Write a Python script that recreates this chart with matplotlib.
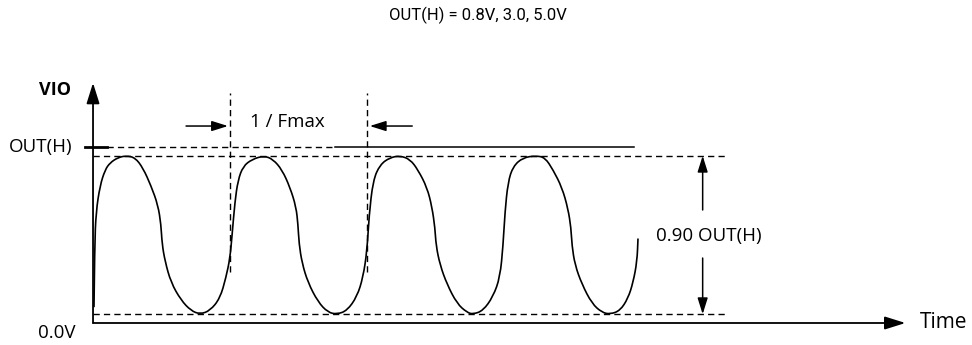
import matplotlib
matplotlib.use('Agg')
import matplotlib.pyplot as plt
from matplotlib.path import Path
from matplotlib.patches import PathPatch

plt.rcParams['font.family'] = ['Open Sans', 'DejaVu Sans']

# waveform: time in periods (1/Fmax = 1), voltage in units of OUT(H)
wave_t = [0.007, 0.012, 0.022, 0.051, 0.088, 0.124, 0.182, 0.241, 0.307, 0.365,
          0.423, 0.474, 0.496, 0.504, 0.526, 0.569, 0.642, 0.715, 0.781, 0.854,
          0.927, 0.971, 1.000, 1.015, 1.036, 1.058, 1.095, 1.161, 1.248, 1.314,
          1.380, 1.438, 1.482, 1.496, 1.504, 1.526, 1.569, 1.642, 1.715, 1.781,
          1.854, 1.927, 1.971, 2.000, 2.015, 2.044, 2.095, 2.168, 2.241, 2.314,
          2.372, 2.438, 2.474, 2.496, 2.504, 2.533, 2.584, 2.657, 2.730, 2.774,
          2.847, 2.920, 2.971, 2.993, 3.007, 3.029, 3.066, 3.139, 3.234, 3.299,
          3.358, 3.423, 3.467, 3.489, 3.496, 3.518, 3.569, 3.642, 3.715, 3.774,
          3.847, 3.905, 3.942, 3.971, 3.978]
wave_v = [0.09, 0.44, 0.63, 0.78, 0.87, 0.91, 0.94, 0.95, 0.94, 0.88,
          0.78, 0.67, 0.56, 0.45, 0.35, 0.23, 0.13, 0.07, 0.05, 0.07,
          0.14, 0.26, 0.37, 0.50, 0.69, 0.81, 0.89, 0.93, 0.95, 0.93,
          0.87, 0.77, 0.66, 0.56, 0.45, 0.34, 0.23, 0.12, 0.06, 0.05,
          0.07, 0.15, 0.26, 0.41, 0.61, 0.81, 0.90, 0.94, 0.95, 0.93,
          0.87, 0.77, 0.66, 0.54, 0.44, 0.33, 0.22, 0.11, 0.06, 0.05,
          0.07, 0.15, 0.26, 0.44, 0.63, 0.80, 0.89, 0.94, 0.95, 0.94,
          0.87, 0.77, 0.65, 0.54, 0.44, 0.33, 0.22, 0.11, 0.06, 0.05,
          0.07, 0.14, 0.23, 0.35, 0.48]

out_h = 1.0
band_low = 0.05
band_high = 0.95
period_marks = [1.0, 2.0]
title = 'OUT(H) = 0.8V, 3.0, 5.0V'

fig = plt.figure(figsize=(9.72, 3.45), dpi=100)
ax = fig.add_axes([0, 0, 1, 1])
ax.set_xlim(-0.679, 6.416)
ax.set_ylim(-0.125, 1.835)
ax.axis('off')

def arrow(x0, y0, x1, y1, lw=1.3, ms=16):
    ax.annotate('', xy=(x1, y1), xytext=(x0, y0),
                arrowprops=dict(arrowstyle='-|>,head_length=0.7,head_width=0.22',
                                color='black', lw=lw, mutation_scale=ms,
                                shrinkA=0, shrinkB=0))

# axes
arrow(0, 0, 0, 1.364, lw=1.3, ms=18)
arrow(0, 0, 5.93, 0, lw=1.3, ms=18)

# reference levels
dash = dict(color='black', lw=1.0, dashes=(4.5, 3))
ax.plot([0.10, 1.766], [out_h, out_h], **dash)
ax.plot([1.766, 3.95], [out_h, out_h], color='black', lw=1.1)
ax.plot([-0.058, 0.102], [out_h, out_h], color='black', lw=2.0)
ax.plot([0, 4.63], [band_high, band_high], **dash)
ax.plot([0, 4.63], [band_low, band_low], **dash)
for m in period_marks:
    ax.plot([m, m], [0.29, 1.307], **dash)

# waveform, the read points used as quadratic control points for a smooth stroke
pts = list(zip(wave_t, wave_v))
verts = [pts[0]]
codes = [Path.MOVETO]
for i in range(1, len(pts) - 1):
    mid = ((pts[i][0] + pts[i + 1][0]) / 2, (pts[i][1] + pts[i + 1][1]) / 2)
    verts += [pts[i], mid]
    codes += [Path.CURVE3, Path.CURVE3]
verts.append(pts[-1])
codes.append(Path.LINETO)
ax.add_patch(PathPatch(Path(verts, codes), fill=False, edgecolor='black',
                       lw=1.2, joinstyle='round'))

# 1 / Fmax markers
arrow(0.679, 1.119, 0.985, 1.119, lw=1.1, ms=14)
arrow(2.33, 1.119, 2.02, 1.119, lw=1.1, ms=14)
ax.text(1.42, 1.142, '1 / Fmax', ha='center', va='center', fontsize=13.5)

# 0.90 OUT(H) span
arrow(4.45, 0.642, 4.45, band_high, lw=1.1, ms=14)
arrow(4.45, 0.369, 4.45, band_low, lw=1.1, ms=14)
ax.text(4.496, 0.494, '0.90 OUT(H)', ha='center', va='center', fontsize=13.5)

# labels
ax.text(2.81, 1.75, title, ha='center', va='center', fontsize=12, family='Roboto')
ax.text(-0.277, 1.324, 'VIO', ha='center', va='center', fontsize=13, fontweight='bold')
ax.text(-0.153, out_h, 'OUT(H)', ha='right', va='center', fontsize=13.5)
ax.text(-0.263, -0.057, '0.0V', ha='center', va='center', fontsize=13.5)
ax.text(6.036, 0.0, 'Time', ha='left', va='center', fontsize=15)

fig.savefig('out.png', dpi=100)
